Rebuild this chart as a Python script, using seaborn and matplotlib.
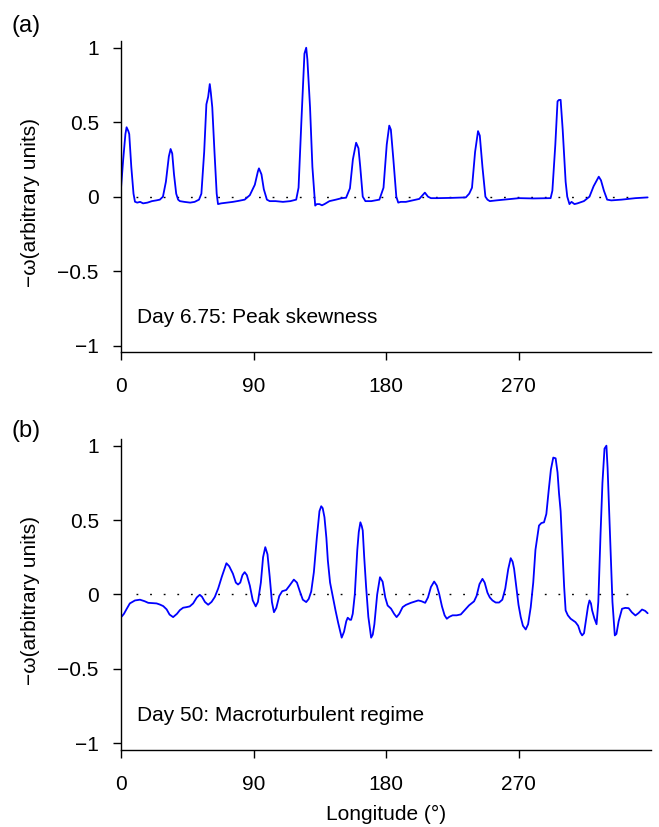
import matplotlib
matplotlib.use("Agg")
import matplotlib.pyplot as plt
import seaborn as sns

# longitude (deg) and -omega, panel (a): day 6.75
lon_a = [0, 1.5, 3, 3.8, 5.0, 5.6, 7, 8.5, 9.5, 11, 13, 15, 18, 21, 24, 26.4,
         28.5, 30.5, 32.5, 33.7, 34.8, 36, 37.5, 38.8, 40, 43, 47, 50, 53,
         54.6, 56.5, 58, 59.2, 60.3, 61, 62, 63.5, 65, 65.9, 68, 72, 76, 80, 84,
         87.5, 90.9, 93, 93.7, 95.4, 97, 99.1, 101, 105, 110, 115, 119,
         120.6, 122.5, 124.6, 125.8, 126.6, 128.4, 130, 131.9, 133, 134.8, 136.5, 138.2, 141.6, 146, 150, 152.9,
         155.5, 157.5, 159.7, 161.3, 162.5, 164.2, 166, 170, 175.5,
         178.3, 180.5, 182.2, 183.3, 185, 187, 188.3, 190, 193.5, 198, 202.6,
         206.4, 208.5, 210.5, 215, 225, 234.2,
         236.5, 238.4, 240.5, 242.5, 243.7, 245.5, 247.5, 248.9, 250.5, 255, 262, 270.5, 280, 291.8,
         293, 295, 296.5, 297.4, 298.6, 300, 300.8, 302, 303.1, 304.6, 306, 308, 310, 314.4,
         318.2, 321, 324.5, 326, 328, 330.2, 333, 340, 349.4, 357.7]
omega_a = [0.056, 0.25, 0.42, 0.466, 0.44, 0.42, 0.2, 0.02, -0.034, -0.04, -0.035, -0.045, -0.04, -0.03, -0.025, -0.02,
           0.0, 0.1, 0.27, 0.32, 0.29, 0.15, 0.02, -0.02, -0.03, -0.035, -0.04, -0.035, -0.02,
           0.02, 0.3, 0.62, 0.67, 0.756, 0.7, 0.6, 0.3, 0.02, -0.05, -0.045, -0.04, -0.035, -0.028, -0.02,
           0.01, 0.08, 0.17, 0.19, 0.15, 0.05, -0.02, -0.03, -0.03, -0.035, -0.03, -0.02,
           0.06, 0.5, 0.96, 1.0, 0.92, 0.6, 0.2, -0.06, -0.05, -0.05, -0.058, -0.05, -0.03, -0.02, -0.01, -0.007,
           0.056, 0.25, 0.362, 0.325, 0.2, 0.0, -0.03, -0.03, -0.02,
           0.06, 0.35, 0.477, 0.45, 0.25, 0.0, -0.04, -0.035, -0.035, -0.025, -0.015,
           0.027, 0.0, -0.01, -0.01, -0.008, -0.005,
           0.02, 0.06, 0.3, 0.44, 0.41, 0.2, 0.0, -0.02, -0.03, -0.025, -0.018, -0.01, -0.012, -0.01,
           0.04, 0.35, 0.64, 0.649, 0.65, 0.45, 0.31, 0.1, 0.0, -0.05, -0.035, -0.05, -0.045, -0.03,
           0.0, 0.07, 0.134, 0.11, 0.04, -0.02, -0.025, -0.02, -0.01, -0.005]

# panel (b): day 50
lon_b = [0.5, 2, 3.9, 6, 9.5, 12.9, 16, 18.5, 21, 24.2,
         26.5, 28.7, 31, 33, 35.4, 38, 40, 42.2, 44.5, 46.7,
         49, 51.5, 53.5, 55, 57, 59.2, 61.5, 63.7, 66, 68.5,
         71.6, 73.5, 76, 78, 79.5, 81, 82.5, 84, 85.5, 87.5,
         89.5, 91.5, 93, 95, 96.5, 98, 99.5, 101, 102.5, 103.9,
         105.5, 107.5, 109.5, 112.2, 114.5, 117.4, 119.5, 121.5, 123.5, 125.8,
         127.5, 129.2, 131, 133, 134.8, 136, 137, 138.2, 139.5, 140.5,
         142, 143.9, 145.7, 147.5, 149.9, 151.5, 153, 154, 155.5, 156.3,
         157.4, 158.8, 160.5, 161.5, 162.6, 163.5, 164.2, 165.2, 166.5, 168,
         169.9, 171, 172.1, 174, 175.9, 177.7, 179.5, 181.1, 183.4, 185.5,
         187.2, 189, 191.3, 193.5, 196.9, 199.5, 201.9, 204, 206.6, 208.5,
         210.5, 212.7, 214.5, 216.1, 218, 219.8, 221.3, 223, 225.2, 228,
         230.8, 233.5, 236.4, 239.8, 241.5, 243.5, 245.5, 247, 248.9, 250.5,
         252.3, 254.5, 256.8, 259, 261, 263, 264.7, 266, 267, 268.5,
         270, 271.5, 273, 274.9, 276.5, 278.3, 280, 281.5, 283.9, 285.5,
         287.3, 288.9, 290.5, 292, 293.6, 295.2, 296.5, 297.5, 298.6, 299.8,
         301, 302, 303.5, 305.4, 308.7, 310.5, 312, 313.2, 314.5, 316,
         317.2, 318.2, 319.2, 320, 321.5, 323, 324.2, 325.7, 327, 328.4,
         329.7, 330.5, 331.3, 332.5, 333.8, 335.4, 336.5, 338, 340.3, 342.5,
         344.8, 347, 349.4, 351.5, 353.9, 356, 357.7]
omega_b = [-0.148, -0.13, -0.096, -0.06, -0.04, -0.035, -0.045, -0.056, -0.058, -0.06,
           -0.068, -0.078, -0.1, -0.135, -0.152, -0.13, -0.105, -0.089, -0.085, -0.08,
           -0.06, -0.02, -0.002, -0.015, -0.05, -0.069, -0.05, -0.017, 0.04, 0.12,
           0.21, 0.19, 0.14, 0.08, 0.067, 0.08, 0.13, 0.15, 0.13, 0.06,
           -0.04, -0.08, -0.05, 0.08, 0.25, 0.318, 0.27, 0.12, -0.05, -0.119,
           -0.09, -0.01, 0.022, 0.03, 0.06, 0.1, 0.08, 0.02, -0.035, -0.051,
           -0.03, 0.02, 0.15, 0.38, 0.56, 0.593, 0.58, 0.519, 0.38, 0.228,
           0.08, -0.018, -0.107, -0.19, -0.29, -0.25, -0.18, -0.156, -0.17, -0.17,
           -0.13, 0.0, 0.3, 0.42, 0.485, 0.46, 0.43, 0.25, 0.049, -0.15,
           -0.29, -0.27, -0.2, 0.0, 0.116, 0.086, -0.02, -0.074, -0.095, -0.13,
           -0.152, -0.13, -0.085, -0.07, -0.056, -0.048, -0.04, -0.045, -0.056, -0.02,
           0.05, 0.087, 0.06, 0.005, -0.08, -0.14, -0.163, -0.15, -0.14, -0.14,
           -0.134, -0.105, -0.073, -0.046, -0.01, 0.07, 0.105, 0.08, 0.012, -0.02,
           -0.04, -0.054, -0.054, -0.035, 0.04, 0.17, 0.244, 0.22, 0.172, 0.05,
           -0.07, -0.152, -0.21, -0.235, -0.2, -0.085, 0.08, 0.3, 0.463, 0.48,
           0.485, 0.541, 0.7, 0.84, 0.92, 0.915, 0.82, 0.68, 0.56, 0.3,
           0.05, -0.107, -0.14, -0.163, -0.186, -0.21, -0.255, -0.275, -0.26, -0.16,
           -0.08, -0.04, -0.06, -0.107, -0.16, -0.2, -0.05, 0.405, 0.75, 0.98,
           1.0, 0.85, 0.63, 0.3, -0.05, -0.275, -0.265, -0.18, -0.096, -0.09,
           -0.092, -0.12, -0.141, -0.125, -0.101, -0.11, -0.126]

x_ticks = [0, 90, 180, 270]
y_ticks = [-1, -0.5, 0, 0.5, 1]
y_ticklabels = ["\u22121", "\u22120.5", "0", "0.5", "1"]
panel_tags = ["(a)", "(b)"]
panel_notes = ["Day 6.75: Peak skewness", "Day 50: Macroturbulent regime"]

sns.set_style("ticks")
plt.rcParams["font.family"] = ["Liberation Sans", "DejaVu Sans"]
plt.rcParams["axes.linewidth"] = 1.0
plt.rcParams["text.color"] = "black"
plt.rcParams["axes.labelcolor"] = "black"
plt.rcParams["axes.edgecolor"] = "black"

fig = plt.figure(figsize=(6.59, 8.27), dpi=100)
ax_a = fig.add_axes([0.1836, 0.574, 0.8043, 0.3764])
ax_b = fig.add_axes([0.1836, 0.0931, 0.8043, 0.3761])

panels = [(ax_a, lon_a, omega_a, 0.969), (ax_b, lon_b, omega_b, 0.479)]
for i, (ax, lon, omega, tag_y) in enumerate(panels):
    ax.hlines(0, 10, 350, colors="black", linestyles=(0, (1.3, 8.5)), linewidth=1.0)
    sns.lineplot(x=lon, y=omega, ax=ax, color="#0000ff", linewidth=1.3, estimator=None)
    ax.set_xlim(0, 360)
    ax.set_ylim(-1.045, 1.045)
    ax.set_xticks(x_ticks)
    ax.set_yticks(y_ticks)
    ax.set_yticklabels(y_ticklabels)
    ax.tick_params(axis="both", direction="out", length=6, width=1.0, labelsize=15, colors="black")
    ax.tick_params(axis="y", pad=10)
    ax.tick_params(axis="x", pad=12)
    ax.set_ylabel("\u2212\u03c9(arbitrary units)", fontsize=15)
    ax.yaxis.set_label_coords(-0.153, 0.48)
    ax.text(10.6, -0.81, panel_notes[i], fontsize=15, va="center", ha="left")
    fig.text(0.018, tag_y, panel_tags[i], fontsize=17, va="center", ha="left")
    sns.despine(ax=ax)

ax_b.set_xlabel("Longitude (\u00b0)", fontsize=15)
ax_b.xaxis.set_label_coords(0.5, -0.178)

fig.savefig("out.png", dpi=100)
